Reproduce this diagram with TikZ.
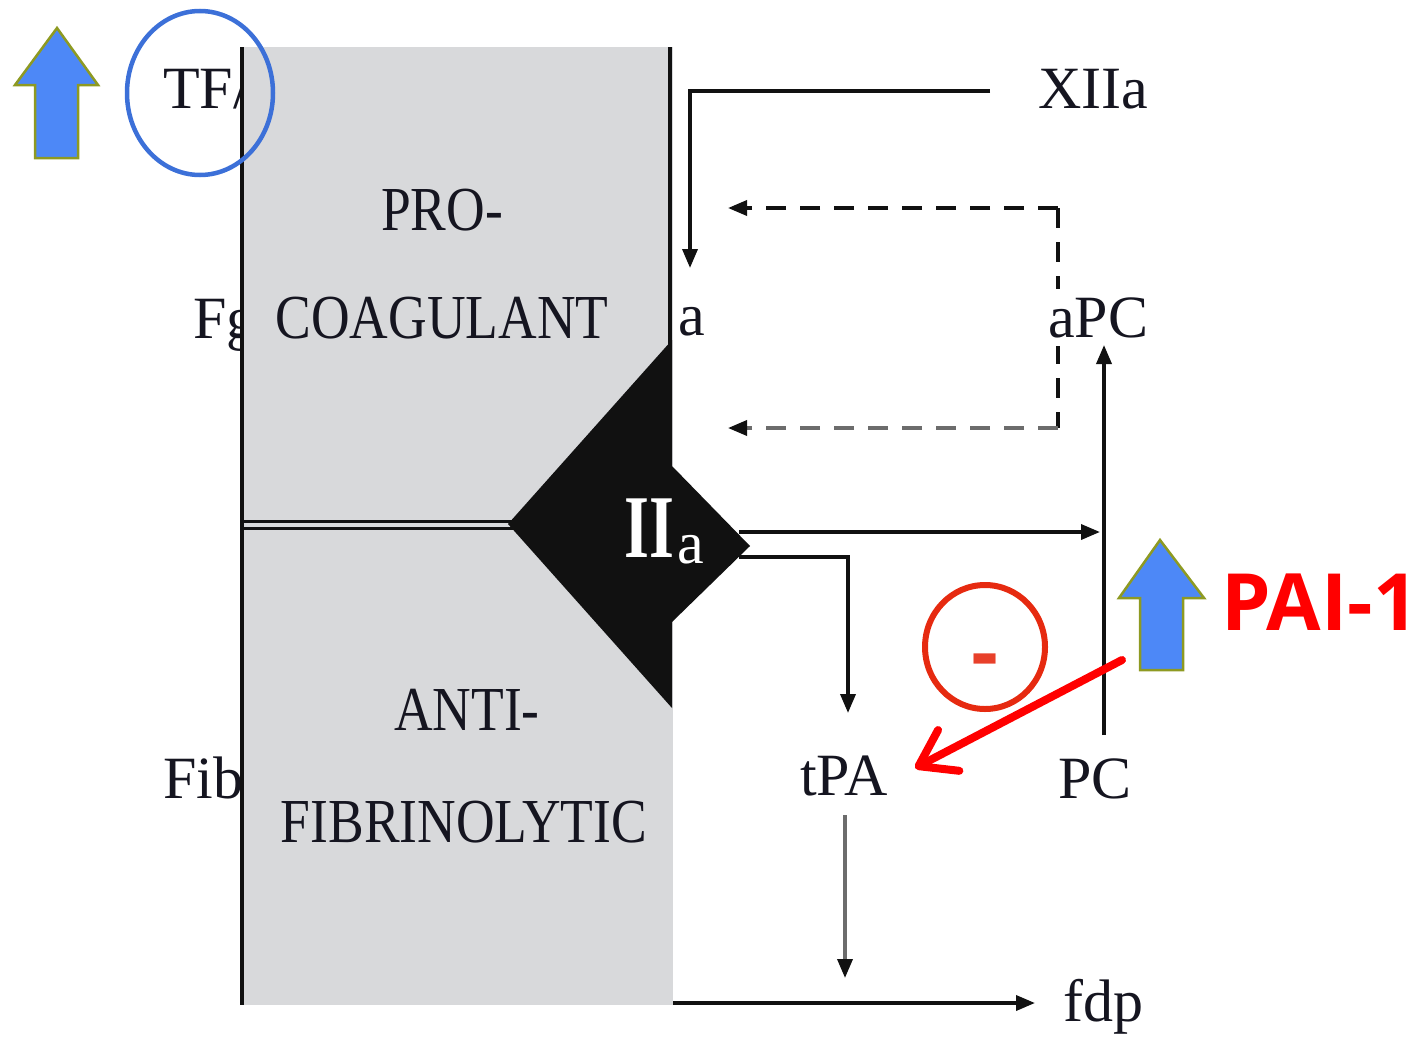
\documentclass[tikz,border=0pt]{standalone}
\usepackage{fontspec}
\setmainfont{Liberation Serif}
\newfontfamily\paifont{Open Sans}
\usetikzlibrary{arrows.meta,shapes.geometric}
\definecolor{boxgray}{HTML}{D8D9DB}
\definecolor{ink}{HTML}{151520}
\definecolor{dgray}{HTML}{6C6C6C}
\definecolor{blk}{HTML}{111111}
\definecolor{upblue}{HTML}{4D88F7}
\definecolor{upedge}{HTML}{8E9A22}
\definecolor{circblue}{HTML}{3C70D8}
\definecolor{pired}{HTML}{FF0000}
\definecolor{circred}{HTML}{E62A10}
\definecolor{minred}{HTML}{E8402A}
\begin{document}
\begin{tikzpicture}[x=1pt,y=-1pt,
  lbl/.style={font=\fontsize{60}{60}\selectfont, text=ink, inner sep=0pt, anchor=base west},
  boxlbl/.style={font=\fontsize{53.5}{54}\selectfont, text=ink, inner sep=0pt, anchor=base, yscale=1.17},
  arr/.style={line width=3.5pt, draw=blk, -{Triangle[length=19pt,width=15pt,color=blk]}},
  dashln/.style={line width=3.5pt, dash pattern=on 20pt off 14pt},
  uparrow/.style={fill=upblue, draw=upedge, line width=2.5pt, line join=miter},
]
\useasboundingbox (0,0) rectangle (1423,1036);

% labels partly hidden by the box
\node[lbl] (tf) at (163,108) {TF/};
\node[lbl] (fg) at (193,338) {Fg};
\node[lbl] (fib) at (163,798) {Fib};

% grey box
\fill[boxgray] (243,47) rectangle (673,1005);
\draw[blk, line width=4.5pt] (242,47) -- (242,1005);
\draw[blk, line width=4.5pt] (670,47) -- (670,345);
\draw[blk, line width=3pt] (242,521) -- (515,521);
\draw[blk, line width=3pt] (242,528.5) -- (515,528.5);

% diamond (thrombin)
\fill[blk] (672,340) -- (508,524) -- (672,708) -- (672,622) -- (750,546) -- (672,466) -- cycle;
\coordinate (d1) at (739,532);
\coordinate (d2) at (739,557);

\node[boxlbl] (pro) at (442,230) {PRO-};
\node[boxlbl] (coag) at (442,338) {COAGULANT};
\node[boxlbl] (anti) at (467,730) {ANTI-};
\node[boxlbl] (fibr) at (464,842) {FIBRINOLYTIC};

\node[font=\fontsize{64}{64}\selectfont\bfseries, text=white, inner sep=0pt, anchor=base west, yscale=1.4] (iia) at (624,557) {II};
\node[font=\fontsize{60}{60}\selectfont, text=white, inner sep=0pt, anchor=base west] (iiasub) at (677,563) {a};

% right labels
\node[lbl] (xiia) at (1038,108) {XIIa};
\node[lbl] (xa) at (678,335) {a};
\node[lbl] (tpa) at (800,795) {tPA};
\node[lbl] (pc) at (1058,798) {PC};
\node[lbl] (fdp) at (1063,1021) {fdp};

% XIIa feed
\coordinate (x0) at (990,91);
\coordinate (x1) at (690,91);
\coordinate (x2) at (690,268);
\draw[arr] (x0) -- (x1) -- (x2);

% dashed aPC feedback
\coordinate (p0) at (1058,208);
\coordinate (p1) at (1058,428);
\coordinate (t1) at (728,208);
\coordinate (t2) at (728,428);
\draw[dashln, blk] (p0) -- (p1);
\draw[dashln, blk, -{Triangle[length=19pt,width=15pt,color=blk]}] (p0) -- (t1);
\draw[dashln, dgray, -{Triangle[length=19pt,width=15pt,color=blk]}] (p1) -- (t2);
\node[lbl, fill=white, inner sep=8pt, anchor=base west] (apc) at (1040,337) {aPC};

% PC -> aPC
\coordinate (pcb) at (1104,735);
\coordinate (pct) at (1104,345);
\draw[arr] (pcb) -- (pct);

% thrombin outputs
\coordinate (h1) at (1100,532);
\draw[arr] (d1) -- (h1);
\coordinate (k1) at (848,557);
\coordinate (k2) at (848,713);
\draw[arr] (d2) -- (k1) -- (k2);

% tPA -> fdp
\coordinate (f0) at (845,815);
\coordinate (f1) at (845,978);
\draw[line width=3.5pt, dgray, -{Triangle[length=19pt,width=15pt,color=blk]}] (f0) -- (f1);
\coordinate (g0) at (673,1003);
\coordinate (g1) at (1035,1003);
\draw[arr] (g0) -- (g1);

% blue up arrows
\path[uparrow] (57,28) -- (98,85) -- (78,85) -- (78,158) -- (35,158) -- (35,85) -- (15,85) -- cycle;
\path[uparrow] (1160,540) -- (1204,598) -- (1183,598) -- (1183,670) -- (1140,670) -- (1140,598) -- (1119,598) -- cycle;

% circles
\node[ellipse, draw=circblue, line width=4.5pt, minimum width=146pt, minimum height=164pt] (tfring) at (200,93) {};
\node[ellipse, draw=circred, line width=6pt, minimum width=120pt, minimum height=124pt] (minring) at (985,647) {};
\node[font=\paifont\fontsize{84}{84}\selectfont\bfseries, text=minred, inner sep=0pt] (minus) at (985,668) {-};

% PAI-1
\node[font=\paifont\fontsize{79}{79}\selectfont\bfseries, text=pired, inner sep=0pt, anchor=base west] (pai) at (1221,630) {PAI-1};
\coordinate (r0) at (1122,660);
\coordinate (r1) at (915,768);
\draw[pired, line width=8pt, line cap=round, -{Straight Barb[length=34pt,width=46pt,round]}] (r0) -- (r1);
\end{tikzpicture}
\end{document}
